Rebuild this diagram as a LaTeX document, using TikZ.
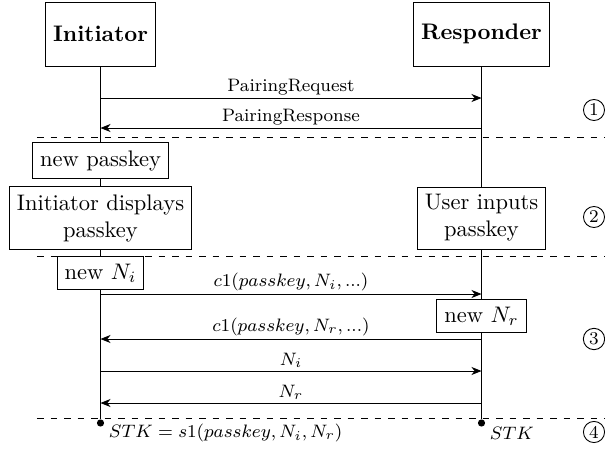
\documentclass[tikz,border=0pt]{standalone}
\usetikzlibrary{arrows.meta}
\begin{document}
\begin{tikzpicture}[x=0.4444pt,y=-0.4444pt,
  actor/.style={draw, font=\bfseries, minimum height=1cm, fill=white},
  proc/.style={draw, fill=white, align=center},
  msg/.style={-{Stealth[length=4.5pt,width=3.6pt]}},
  lbl/.style={font=\footnotesize, above, inner sep=1.2pt},
  sepline/.style={dashed},
  phase/.style={circle, draw, inner sep=0.9pt, font=\footnotesize},
  dot/.style={circle, fill, inner sep=0pt, minimum size=3.2pt},
  stk/.style={font=\footnotesize, anchor=west, inner sep=2pt}]
\useasboundingbox (0,0) rectangle (605,449);
% actors and lifelines
\node[actor] (ini) at (100.5,34) {Initiator};
\node[actor] (res) at (481.5,34) {Responder};
\node[dot] (di) at (100.5,423) {};
\node[dot] (dr) at (481.5,423) {};
\draw (ini) -- (di);
\draw (res) -- (dr);
% separators
\coordinate (s1l) at (37,137);  \coordinate (s1r) at (605,137);
\coordinate (s2l) at (37,256);  \coordinate (s2r) at (605,256);
\coordinate (s3l) at (37,418);  \coordinate (s3r) at (605,418);
\draw[sepline] (s1l) -- (s1r);
\draw[sepline] (s2l) -- (s2r);
\draw[sepline] (s3l) -- (s3r);
% local actions
\node[proc] (np) at (100.5,160.5) {new passkey};
\node[proc] (disp) at (100.5,218) {Initiator displays\\passkey};
\node[proc] (inp) at (481.5,218) {User inputs\\passkey};
\node[proc] (ni) at (100.5,273) {new $N_i$};
\node[proc] (nr) at (481.5,316) {new $N_r$};
% message anchors
\coordinate (i1) at (100.5,98);  \coordinate (r1) at (481.5,98);
\coordinate (i2) at (100.5,128); \coordinate (r2) at (481.5,128);
\coordinate (i3) at (100.5,294); \coordinate (r3) at (481.5,294);
\coordinate (i4) at (100.5,339); \coordinate (r4) at (481.5,339);
\coordinate (i5) at (100.5,371); \coordinate (r5) at (481.5,371);
\coordinate (i6) at (100.5,403); \coordinate (r6) at (481.5,403);
\draw[msg] (i1) -- node[lbl] {PairingRequest} (r1);
\draw[msg] (r2) -- node[lbl] {PairingResponse} (i2);
\draw[msg] (i3) -- node[lbl] {$c1(passkey, N_i, ...)$} (r3);
\draw[msg] (r4) -- node[lbl] {$c1(passkey, N_r, ...)$} (i4);
\draw[msg] (i5) -- node[lbl] {$N_i$} (r5);
\draw[msg] (r6) -- node[lbl] {$N_r$} (i6);
% results
\node[stk] (ki) at (104,433) {$STK = s1(passkey, N_i, N_r)$};
\node[stk] (kr) at (485,433) {$STK$};
% phases
\node[phase] (p1) at (594,110) {1};
\node[phase] (p2) at (594,217) {2};
\node[phase] (p3) at (594,339) {3};
\node[phase] (p4) at (594,432) {4};
\end{tikzpicture}
\end{document}
